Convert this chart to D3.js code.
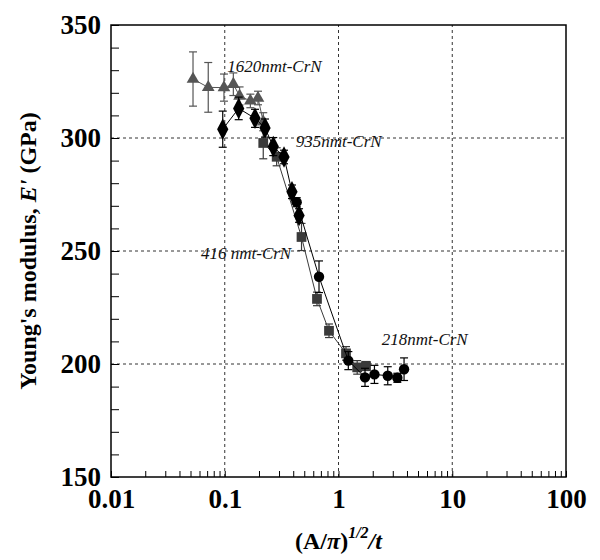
<!DOCTYPE html>
<html>
<head>
<meta charset="utf-8">
<script src="https://cdn.jsdelivr.net/npm/d3@7"></script>
<style>
  body { margin: 0; background: #fff; }
</style>
</head>
<body>
<div id="chart"></div>
<script>
// Young's modulus vs (A/pi)^1/2 / t for four CrN film thicknesses

// 1620 nm (triangles)
const triX = [0.0526, 0.0716, 0.0984, 0.119, 0.135, 0.168, 0.196, 0.218]
const triY = [326.1, 322.4, 322.3, 323.8, 318.6, 316.4, 317.7, 307.2]
const triE = [12, 11, 6, 5, 4, 3, 3, 4]

// 935 nm (diamonds)
const diaX = [0.096, 0.1326, 0.1845, 0.226, 0.267, 0.332, 0.39, 0.45]
const diaY = [303.9, 313.1, 308.7, 304.4, 296.2, 291.6, 276.2, 265.7]
const diaE = [8, 5, 4, 4, 4, 3, 3, 3]

// 416 nm (squares)
const sqX = [0.218, 0.286, 0.473, 0.647, 0.825, 1.164, 1.46, 1.745]
const sqY = [297.8, 291.7, 256.2, 228.8, 214.7, 204.7, 198.5, 199.1]
const sqE = [7, 4, 6, 3, 3, 3, 3, 2]

// 218 nm (circles)
const cirX = [0.429, 0.674, 1.22, 1.71, 2.07, 2.71, 3.29, 3.77]
const cirY = [271.6, 238.6, 201.5, 194.1, 195.4, 194.8, 193.9, 197.7]
const cirE = [2, 7, 4, 4, 4, 4, 2, 5]

const xDecades = [0.01, 0.1, 1, 10, 100]
const yMajor = [150, 200, 250, 300, 350]

const labels = [
  { text: "1620nmt-CrN", x: 0.105, y: 329 },
  { text: "935nmt-CrN", x: 0.42, y: 296 },
  { text: "416 nmt-CrN", x: 0.0618, y: 246.5 },
  { text: "218nmt-CrN", x: 2.4, y: 208.5 },
]

const FONT = "'Liberation Serif', 'Times New Roman', Times, serif"
const W = 600
const H = 560
const margin = { top: 25, right: 34, bottom: 83, left: 111 }

const svg = d3.select("#chart").append("svg").attr("width", W).attr("height", H).attr("font-family", FONT)

const x = d3.scaleLog().domain([0.01, 100]).range([margin.left, W - margin.right])
const y = d3.scaleLinear().domain([150, 350]).range([H - margin.bottom, margin.top])

// Grid lines
const grid = svg.append("g").attr("stroke", "#333").attr("stroke-width", 1).attr("stroke-dasharray", "3,3")
grid
  .selectAll(".gx")
  .data(xDecades.slice(1, -1))
  .enter()
  .append("line")
  .attr("x1", (d) => x(d))
  .attr("x2", (d) => x(d))
  .attr("y1", y(150))
  .attr("y2", y(350))
grid
  .selectAll(".gy")
  .data(yMajor.slice(1, -1))
  .enter()
  .append("line")
  .attr("x1", x(0.01))
  .attr("x2", x(100))
  .attr("y1", (d) => y(d))
  .attr("y2", (d) => y(d))

// Axes (ticks point inward)
const xAxis = d3
  .axisBottom(x)
  .tickValues(x.ticks())
  .tickSizeInner(-6)
  .tickSizeOuter(0)
  .tickPadding(9)
  .tickFormat((d) => (xDecades.some((v) => Math.abs(v - d) / v < 1e-6) ? String(d) : ""))

const gx = svg
  .append("g")
  .attr("transform", `translate(0,${y(150)})`)
  .call(xAxis)
  .attr("font-family", FONT)
gx.select(".domain").remove()
gx.selectAll("line").attr("stroke", "#000")
gx.selectAll("text").attr("font-size", 27).attr("font-weight", "bold").attr("fill", "#000").attr("dy", "0.8em")

const yAxis = d3
  .axisLeft(y)
  .tickValues(d3.range(150, 351, 10))
  .tickSizeInner(-8)
  .tickSizeOuter(0)
  .tickPadding(10)
  .tickFormat((d) => (d % 50 === 0 ? d : ""))

const gy = svg
  .append("g")
  .attr("transform", `translate(${x(0.01)},0)`)
  .call(yAxis)
  .attr("font-family", FONT)
gy.select(".domain").remove()
gy.selectAll("line").attr("stroke", "#000")
gy.selectAll("text").attr("font-size", 27).attr("font-weight", "bold").attr("fill", "#000")

// Frame
svg
  .append("rect")
  .attr("x", x(0.01))
  .attr("y", y(350))
  .attr("width", x(100) - x(0.01))
  .attr("height", y(150) - y(350))
  .attr("fill", "none")
  .attr("stroke", "#000")
  .attr("stroke-width", 1.5)

// Series
const series = [
  { xs: triX, ys: triY, es: triE, shape: d3.symbolTriangle, size: 70, color: "#555" },
  { xs: sqX, ys: sqY, es: sqE, shape: d3.symbolSquare, size: 95, color: "#3a3a3a" },
  { xs: diaX, ys: diaY, es: diaE, shape: d3.symbolDiamond, size: 110, color: "#000" },
  { xs: cirX, ys: cirY, es: cirE, shape: d3.symbolCircle, size: 85, color: "#000" },
]

const line = d3
  .line()
  .x((d) => x(d.x))
  .y((d) => y(d.y))

series.forEach((s) => {
  const pts = s.xs.map((v, i) => ({ x: v, y: s.ys[i], e: s.es[i] }))
  const g = svg.append("g")

  g.append("path")
    .datum(pts)
    .attr("d", line)
    .attr("fill", "none")
    .attr("stroke", s.color)
    .attr("stroke-width", 1)

  const eb = g
    .selectAll(".err")
    .data(pts)
    .enter()
    .append("g")
    .attr("stroke", s.color)
    .attr("stroke-width", 1.2)
  eb.append("line")
    .attr("x1", (d) => x(d.x))
    .attr("x2", (d) => x(d.x))
    .attr("y1", (d) => y(d.y + d.e))
    .attr("y2", (d) => y(d.y - d.e))
  eb.append("line")
    .attr("x1", (d) => x(d.x) - 4)
    .attr("x2", (d) => x(d.x) + 4)
    .attr("y1", (d) => y(d.y + d.e))
    .attr("y2", (d) => y(d.y + d.e))
  eb.append("line")
    .attr("x1", (d) => x(d.x) - 4)
    .attr("x2", (d) => x(d.x) + 4)
    .attr("y1", (d) => y(d.y - d.e))
    .attr("y2", (d) => y(d.y - d.e))

  g.selectAll(".pt")
    .data(pts)
    .enter()
    .append("path")
    .attr("d", d3.symbol().type(s.shape).size(s.size))
    .attr("transform", (d) => `translate(${x(d.x)},${y(d.y)})` + (s.shape === d3.symbolDiamond ? " scale(1,1.1)" : ""))
    .attr("fill", s.color)
})

// Series labels
svg
  .selectAll(".lbl")
  .data(labels)
  .enter()
  .append("text")
  .attr("x", (d) => x(d.x))
  .attr("y", (d) => y(d.y))
  .attr("font-size", 17)
  .attr("font-style", "italic")
  .attr("fill", "#111")
  .text((d) => d.text)

// Axis titles
const yt = svg
  .append("text")
  .attr("transform", `translate(36,${(y(150) + y(350)) / 2}) rotate(-90)`)
  .attr("text-anchor", "middle")
  .attr("font-size", 24)
  .attr("font-weight", "bold")
yt.append("tspan").text("Young's modulus, ")
yt.append("tspan").attr("font-style", "italic").text("E'")
yt.append("tspan").text("  (GPa)")

const xt = svg
  .append("text")
  .attr("x", (x(0.01) + x(100)) / 2)
  .attr("y", 549)
  .attr("text-anchor", "middle")
  .attr("font-size", 24)
  .attr("font-weight", "bold")
xt.append("tspan").text("(A/")
xt.append("tspan").attr("font-style", "italic").text("π")
xt.append("tspan").text(")")
xt.append("tspan").attr("font-style", "italic").attr("font-size", 16).attr("dy", -11).text("1/2")
xt.append("tspan").attr("font-style", "italic").attr("dy", 11).text("/t")
</script>
</body>
</html>
